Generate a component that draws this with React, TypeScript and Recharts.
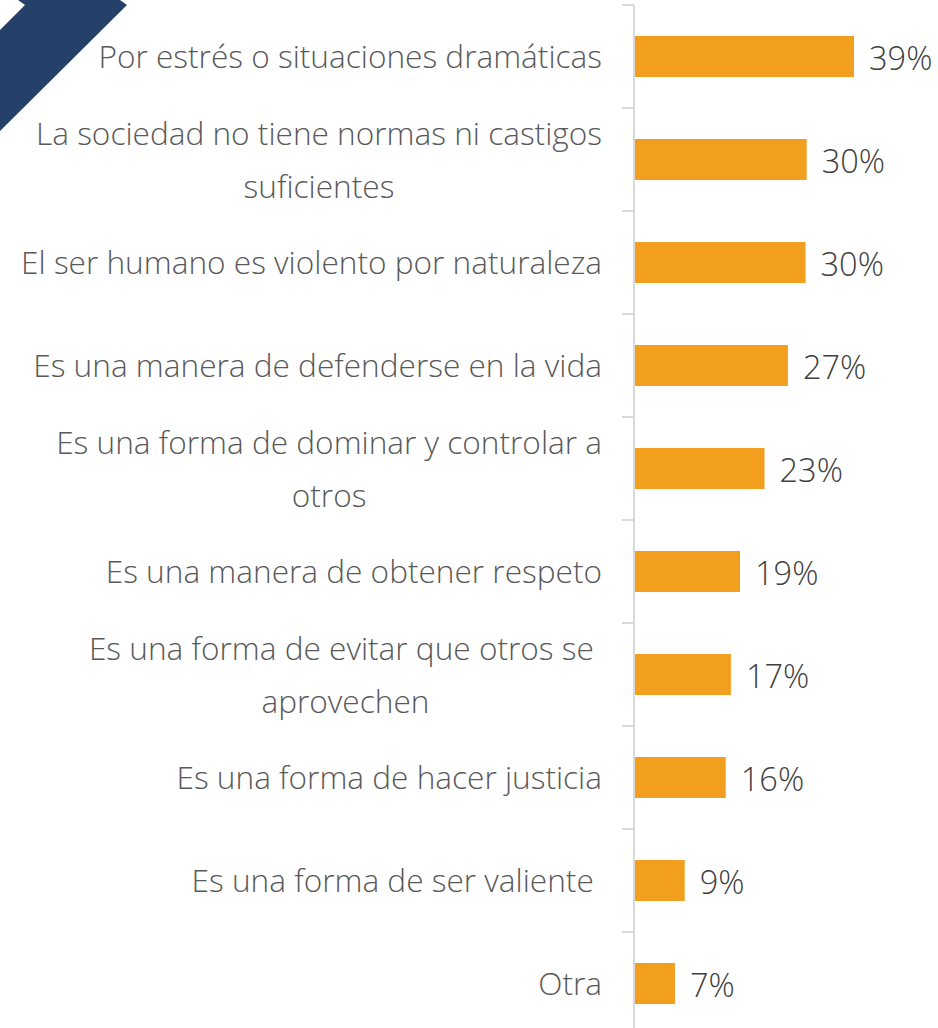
import { BarChart, Bar, XAxis, YAxis, LabelList } from "recharts";

const categories = [
  "Por estrés o situaciones dramáticas",
  "La sociedad no tiene normas ni castigos\nsuficientes",
  "El ser humano es violento por naturaleza",
  "Es una manera de defenderse en la vida",
  "Es una forma de dominar y controlar a\notros",
  "Es una manera de obtener respeto",
  "Es una forma de evitar que otros se \naprovechen",
  "Es una forma de hacer justicia",
  "Es una forma de ser valiente ",
  "Otra",
];

const values = [38.6, 30.3, 30.1, 27.0, 22.9, 18.6, 17.0, 16.1, 8.9, 7.2];

const data = categories.map((name, i) => ({ name, value: values[i] }));

const WIDTH = 938;
const HEIGHT = 1035;
const MARGIN = { top: 5, right: 19, bottom: 0, left: 0 };
const AXIS_W = 634;
const BAND = (HEIGHT - MARGIN.top - MARGIN.bottom) / categories.length;
const FONT = "'Open Sans', sans-serif";
const FONT_SIZE = 31.6;
const VALUE_SIZE = 32.5;
const LINE_GAP = 53;

let ctx: CanvasRenderingContext2D | null = null;
const measure = (s: string) => {
  if (!ctx) ctx = document.createElement("canvas").getContext("2d");
  if (!ctx) return s.length * 14;
  ctx.font = `300 ${FONT_SIZE}px ${FONT}`;
  return ctx.measureText(s).width;
};

const CategoryTick = (props: any) => {
  const { x, y, payload, index } = props;
  const lines = String(payload.value).split("\n");
  const maxW = Math.max(...lines.map(measure));
  const multi = lines.length > 1;
  const base = y + 11.5 - ((lines.length - 1) / 2) * LINE_GAP;
  return (
    <g>
      <line x1={AXIS_W - 12} x2={AXIS_W} y1={y - BAND / 2} y2={y - BAND / 2} stroke="#d9d9d9" strokeWidth={2} />
      {index === categories.length - 1 && (
        <line x1={AXIS_W - 12} x2={AXIS_W} y1={y + BAND / 2} y2={y + BAND / 2} stroke="#d9d9d9" strokeWidth={2} />
      )}
      {lines.map((line, i) => (
        <text
          key={i}
          x={multi ? x - maxW / 2 : x}
          y={base + i * LINE_GAP}
          textAnchor={multi ? "middle" : "end"}
          fill="#595959"
          fontSize={FONT_SIZE}
          fontWeight={300}
          fontFamily={FONT}
          style={{ whiteSpace: "pre" }}
        >
          {line}
        </text>
      ))}
    </g>
  );
};

const ValueLabel = (props: any) => {
  const { x, y, width, height, value } = props;
  return (
    <text
      x={x + width + 15}
      y={y + height / 2 + 13.5}
      fill="#404040"
      fontSize={VALUE_SIZE}
      fontWeight={300}
      fontFamily={FONT}
    >
      {Math.round(value)}%
    </text>
  );
};

export default function App() {
  return (
    <div style={{ position: "absolute", top: 0, left: 0, width: 938, height: 1028, overflow: "hidden", background: "#fff" }}>
      <BarChart width={WIDTH} height={HEIGHT} data={data} layout="vertical" margin={MARGIN}>
        <XAxis type="number" domain={[0, 50]} hide />
        <YAxis
          type="category"
          dataKey="name"
          width={AXIS_W}
          axisLine={{ stroke: "#d9d9d9", strokeWidth: 2 }}
          tickLine={false}
          tickSize={0}
          tickMargin={32}
          tick={<CategoryTick />}
          interval={0}
        />
        <Bar dataKey="value" fill="#F29F1F" barSize={41} isAnimationActive={false}>
          <LabelList dataKey="value" content={<ValueLabel />} />
        </Bar>
      </BarChart>
      <svg width={140} height={140} style={{ position: "absolute", top: 0, left: 0, pointerEvents: "none" }}>
        <polygon points="18,0 120,0 127,5 0,131 0,30 25,5" fill="#254169" />
      </svg>
    </div>
  );
}
